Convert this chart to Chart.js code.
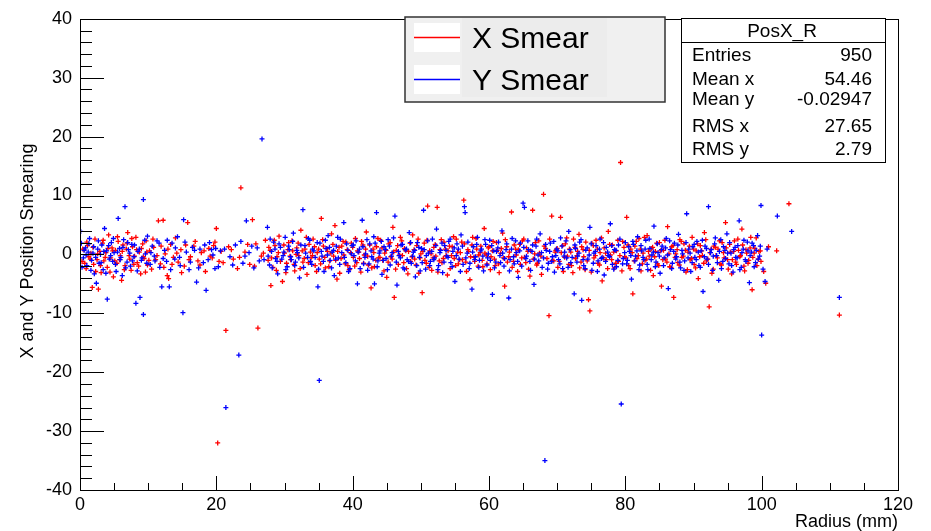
<!DOCTYPE html>
<html>
<head>
<meta charset="utf-8">
<script src="https://cdn.jsdelivr.net/npm/chart.js@4.4.1/dist/chart.umd.min.js"></script>
<style>
  html, body { margin: 0; padding: 0; background: #fff; }
  canvas { display: block; }
</style>
</head>
<body>
<canvas id="smearChart" width="931" height="531"></canvas>
<script>
// PosX_R : X / Y smearing vs radius

const seriesNames = ['X Smear', 'Y Smear'];
const seriesColors = ['#ff0000', '#0000ff'];

const xAxisRange = [0, 120];
const yAxisRange = [-40, 40];
const xAxisTitle = 'Radius (mm)';
const yAxisTitle = 'X and Y Position Smearing';

const statsTitle = 'PosX_R';
const statsNames = ['Entries', 'Mean x', 'Mean y', 'RMS x', 'RMS y'];
const statsValues = ['950', '54.46', '-0.02947', '27.65', '2.79'];

// [radius, smear] for the X smearing
const xSmearPts = [
  [0.3,-1.2],[0.6,0.8],[0.9,-2.4],[1.1,1.5],[1.3,-0.4],[1.6,0.2],[1.8,-5.6],[2.0,-1.7],[2.2,2.6],[2.5,-0.9],
  [2.7,-5.9],[2.9,0.5],[3.1,-3.1],[3.3,1.9],[3.5,-1.1],[3.8,0.3],[4.0,-2.2],[4.2,3.3],[4.5,-0.6],[4.7,1.1],
  [4.9,-3.8],[5.2,0.7],[5.4,-1.5],[5.6,2.2],[5.9,-0.2],[6.1,-4.4],[6.3,1.6],[6.6,-1.9],[6.8,0.9],[7.0,3.7],
  [7.3,-0.8],[7.5,-2.7],[7.7,1.3],[8.0,-0.3],[8.2,2.9],[8.4,-1.4],[8.7,0.4],[8.9,-3.3],[9.2,1.8],[9.4,-0.7],
  [9.7,2.3],[9.9,-1.8],
  [10.2,0.6],[10.5,-2.5],[10.8,1.2],[11.1,-0.9],[11.5,5.7],[11.8,-1.6],[12.2,5.8],[12.5,0.1],[12.8,-3.6],[13.0,-4.1],
  [13.3,1.7],[13.7,-0.5],[14.0,2.8],[14.4,-1.3],[14.8,0.8],[15.3,-2.0],[15.8,5.4],[16.2,-0.4],[16.7,1.4],[17.3,-1.1],
  [17.8,0.3],[18.4,-2.9],[18.9,1.0],[19.4,-0.6],[19.8,2.1],[20.0,4.4],[20.4,-1.2],[20.7,0.5],
  [20.2,-32.0],[21.4,-12.9],[21.8,1.3],[22.5,-0.8],[23.1,-2.4],[23.6,11.3],[24.2,0.4],[24.9,-1.7],[25.3,5.9],[25.8,1.8],
  [26.1,-12.5],[26.6,-0.3],[27.2,2.4],
  [27.6,-1.0],[27.9,0.7],[28.0,-5.3],[28.3,-2.2],[28.6,1.5],[28.9,-0.4],[29.2,3.1],[29.7,-4.6],[30.0,0.2],[30.3,-1.5],
  [30.6,2.0],[30.9,-0.9],[31.2,0.6],[31.5,-2.8],[31.8,1.1],[32.1,-0.2],[32.4,4.1],[32.7,-1.3],[33.0,0.9],[33.3,-3.4],
  [33.6,1.7],[33.9,-0.6],[34.2,2.6],[34.5,-1.9],[34.8,0.3],[35.1,-0.8],[35.4,6.1],[35.7,1.4],[36.0,-2.3],[36.3,0.5],
  [36.6,-1.1],[36.9,3.5],[37.2,-0.3],[37.4,4.9],[37.7,-4.2],[38.0,1.2],[38.3,-0.7],[38.6,2.2],[38.9,-1.6],[39.2,0.8],
  [39.5,-2.6],[39.8,1.9],
  [40.1,-0.5],[40.4,2.7],[40.6,-1.4],[40.9,0.4],[41.2,-3.0],[41.5,1.6],[41.7,-0.1],[42.0,3.8],[42.3,-1.8],[42.7,-5.7],
  [43.0,0.9],[43.2,-2.1],[43.5,1.3],[43.8,-0.6],[44.1,2.4],[44.4,-1.0],[44.7,0.2],[45.0,-3.9],[45.3,1.8],[45.6,-0.4],
  [45.9,4.6],[46.1,-7.3],[46.4,0.7],[46.7,-1.7],[47.0,2.9],[47.3,-0.2],[47.6,1.0],[47.9,-2.4],[48.2,0.5],[48.5,-1.2],
  [48.8,3.3],[49.1,-0.8],[49.4,1.5],[49.7,-3.2],[50.0,0.1],[50.2,-6.5],
  [50.5,1.9],[50.8,-1.5],[51.0,8.2],[51.3,0.6],[51.6,-2.7],[51.9,1.2],[52.2,-0.3],[52.4,8.0],[52.7,-1.1],[53.0,2.5],
  [53.3,-0.7],[53.6,0.9],[53.9,-3.5],[54.2,1.4],[54.5,-0.2],[54.8,3.0],[55.1,-1.9],[55.4,0.4],[55.7,-0.9],[56.0,2.1],
  [56.3,9.2],[56.6,-1.3],[56.9,0.8],[57.2,-4.3],[57.5,1.6],[57.8,-0.5],[58.1,2.7],[58.4,-2.0],[58.7,0.3],[59.0,-1.0],
  [59.3,4.4],[59.6,-0.1],[59.9,1.1],
  [60.2,-2.6],[60.5,0.6],[60.8,-0.8],[61.1,2.0],[61.4,-1.6],[61.7,0.2],[62.0,3.6],[62.3,-5.4],[62.6,1.3],[62.9,-0.4],
  [63.3,7.2],[63.6,-1.2],[63.9,0.9],[64.2,-2.9],[64.5,1.7],[64.8,-0.6],[65.1,2.6],[65.4,-1.4],[65.7,0.5],[66.0,-3.7],
  [66.4,7.5],[66.7,0.1],[67.0,-1.8],[67.3,2.3],[67.6,-0.3],[68.0,10.2],[68.3,1.0],[68.8,-10.4],[69.2,6.5],[69.5,-1.1],
  [69.8,0.7],
  [70.1,-2.2],[70.5,6.3],[70.8,1.5],[71.1,-0.5],[71.4,2.8],[71.7,-1.7],[72.0,0.4],[72.3,-3.1],[72.6,1.2],[72.9,-0.2],
  [73.2,3.4],[73.5,-1.3],[73.8,0.8],[74.1,-2.6],[74.6,-7.7],[74.8,-9.6],[75.1,1.9],[75.4,-0.6],[75.7,2.4],[76.0,-1.5],
  [76.3,0.3],[76.6,-4.5],[76.9,1.1],[77.2,-0.9],[77.5,3.9],[77.8,-0.1],[78.1,1.6],[78.4,-2.3],[78.7,0.6],[79.0,-1.2],
  [79.3,15.6],[79.6,2.2],[79.9,-0.4],
  [80.2,6.3],[80.5,-1.9],[80.8,0.9],[81.1,-6.7],[81.4,1.4],[81.7,-0.7],[82.0,2.7],[82.3,-2.8],[82.6,0.2],[82.9,-1.0],
  [83.2,3.2],[83.5,-0.3],[83.8,1.0],[84.1,-3.6],[84.4,0.5],[84.7,-1.6],[85.0,2.0],[85.3,-5.4],[85.6,0.7],[85.9,-0.8],
  [86.2,4.7],[86.5,-2.1],[86.8,1.3],[87.1,-7.3],[87.4,0.1],[87.7,-1.4],[88.0,2.5],[88.3,-0.5],[88.6,1.8],[88.9,-3.0],
  [89.2,0.4],[89.5,-0.9],[89.8,2.9],
  [90.1,-1.7],[90.4,0.6],[90.7,-4.1],[91.0,1.5],[91.3,-0.2],[91.6,3.7],[91.9,-1.1],[92.3,-8.9],[92.6,0.9],[92.9,-2.5],
  [93.2,1.2],[93.5,-0.6],[93.8,2.3],[94.1,-1.8],[94.4,0.3],[94.7,5.4],[95.0,-0.9],[95.3,1.7],[95.6,-3.3],[95.9,0.5],
  [96.2,-1.3],[96.5,2.6],[96.8,-0.4],[97.1,4.3],[97.4,-2.0],[97.7,0.8],[98.0,-1.5],[98.3,1.1],[98.6,-6.0],[98.9,0.2],
  [99.2,2.8],[99.5,-0.8],[99.8,0.6],
  [100.3,-2.9],[100.6,-4.9],[101.0,1.3],[102.2,0.6],[104.0,8.6],[111.4,-10.3]
];

// denser core of the X smearing band
const xSmearCore = [
  [0.4,0.9],[0.7,-1.5],[1.0,2.1],[1.5,-0.8],[1.9,1.2],[2.3,-2.9],[2.6,0.1],[3.0,-1.9],[3.4,2.4],[3.7,-0.5],
  [4.1,1.0],[4.4,-3.0],[4.8,0.6],[5.1,-1.1],[5.5,3.0],[5.8,-0.9],[6.2,0.5],[6.5,-2.6],[6.9,1.9],[7.2,-0.2],
  [7.6,2.7],[7.9,-1.7],[8.3,0.8],[8.6,-2.0],[9.0,1.0],[9.3,-0.4],[9.6,-3.0],[9.8,0.4],
  [10.1,-1.0],[10.7,2.6],[11.3,-0.2],[11.9,1.4],[12.3,-2.2],[12.9,0.9],[13.5,-1.7],[14.2,0.2],[14.9,-3.1],[15.5,1.6],
  [16.0,-0.9],[16.9,2.2],[17.6,-1.8],[18.2,0.6],[19.1,-0.3],[19.6,1.5],
  [21.0,-1.4],[22.2,0.8],[23.4,-0.5],[24.6,1.7],[25.6,-2.0],[26.9,0.2],
  [27.7,1.2],[28.1,-0.6],[28.5,2.4],[28.8,-2.7],[29.1,0.3],[29.4,-1.2],[29.9,1.6],[30.2,-3.1],[30.5,0.8],[30.8,-0.3],
  [31.1,2.3],[31.4,-1.7],[31.7,0.0],[32.0,1.9],[32.3,-2.4],[32.6,0.6],[32.9,-0.7],[33.2,2.9],[33.5,-1.4],[33.8,0.4],
  [34.1,-0.2],[34.4,1.3],[34.7,-2.9],[35.0,0.9],[35.3,-1.6],[35.6,2.5],[35.9,-0.5],[36.2,1.0],[36.5,-2.1],[36.8,0.2],
  [37.1,1.7],[37.5,-1.0],[37.8,0.5],[38.1,-3.2],[38.4,1.4],[38.7,-0.1],[39.0,2.1],[39.3,-1.9],[39.7,0.3],
  [40.0,1.2],[40.3,-2.0],[40.7,0.6],[41.0,-0.7],[41.3,2.2],[41.6,-1.5],[41.9,0.9],[42.2,-0.3],[42.5,1.6],[42.8,-2.3],
  [43.1,0.3],[43.4,-1.0],[43.7,2.7],[44.0,-0.5],[44.3,1.1],[44.6,-2.8],[44.9,0.7],[45.2,-1.3],[45.5,2.0],[45.8,-0.8],
  [46.0,0.4],[46.3,-2.5],[46.6,1.5],[46.9,-0.1],[47.2,2.3],[47.5,-1.4],[47.8,0.6],[48.1,-3.3],[48.4,1.9],[48.7,-0.4],
  [49.0,0.8],[49.3,-1.8],[49.6,2.6],[49.9,-0.6],
  [50.3,0.5],[50.6,-1.0],[50.9,2.4],[51.2,-2.2],[51.5,0.1],[51.8,-0.6],[52.1,1.7],[52.5,-3.0],[52.8,0.8],[53.1,-1.4],
  [53.4,2.1],[53.7,-0.2],[54.0,0.6],[54.3,-2.4],[54.6,1.3],[54.9,-0.7],[55.2,2.6],[55.5,-1.6],[55.8,0.3],[56.1,-0.9],
  [56.4,1.8],[56.7,-2.9],[57.0,0.5],[57.3,-0.4],[57.6,2.9],[57.9,-1.2],[58.2,0.9],[58.5,-0.1],[58.8,1.4],[59.1,-2.1],
  [59.4,0.2],[59.7,-1.6],
  [60.0,1.3],[60.3,-0.4],[60.6,2.2],[60.9,-1.9],[61.2,0.7],[61.5,-3.1],[61.8,1.0],[62.1,-0.6],[62.4,2.5],[62.7,-1.3],
  [63.0,0.4],[63.4,-2.2],[63.7,1.6],[64.0,-0.1],[64.3,0.8],[64.6,-1.7],[64.9,2.3],[65.2,-0.5],[65.5,1.1],[65.8,-2.5],
  [66.1,0.6],[66.5,-0.8],[66.8,2.0],[67.1,-1.5],[67.4,0.2],[67.7,-3.4],[68.1,1.4],[68.5,-0.7],[68.9,2.6],[69.3,-1.0],
  [69.7,0.4],
  [70.0,1.0],[70.3,-1.2],[70.6,0.3],[70.9,-2.9],[71.2,1.8],[71.5,-0.3],[71.8,0.9],[72.1,-1.9],[72.4,2.6],[72.7,-0.7],
  [73.0,0.5],[73.3,-2.3],[73.6,1.3],[73.9,-0.4],[74.2,2.1],[74.4,-1.1],[74.7,0.7],[75.0,-3.0],[75.3,1.5],[75.6,-0.2],
  [75.9,0.9],[76.2,-1.8],[76.5,2.8],[76.8,-0.6],[77.1,0.2],[77.4,-2.4],[77.7,1.7],[78.0,-0.9],[78.3,0.4],[78.6,-1.5],
  [78.9,2.4],[79.2,-0.2],[79.5,-2.8],[79.8,1.2],
  [80.1,-0.6],[80.4,1.6],[80.7,-2.4],[81.0,0.3],[81.3,-1.1],[81.6,2.2],[81.9,-0.2],[82.2,0.9],[82.5,-1.6],[82.8,2.9],
  [83.1,-0.8],[83.4,0.5],[83.7,-2.7],[84.0,1.2],[84.3,-0.4],[84.6,1.9],[84.9,-1.9],[85.2,0.6],[85.5,-0.9],[85.8,2.4],
  [86.1,-1.3],[86.4,0.1],[86.7,-2.2],[87.0,1.5],[87.3,-0.5],[87.6,0.8],[87.9,-1.8],[88.2,2.2],[88.5,-0.3],[88.8,0.7],
  [89.1,-2.6],[89.4,1.4],[89.7,-0.7],
  [90.0,0.9],[90.3,-2.3],[90.6,1.8],[90.9,-0.4],[91.2,0.6],[91.5,-1.5],[91.8,2.5],[92.1,-0.8],[92.4,0.3],[92.7,-3.2],
  [93.0,1.4],[93.3,-0.2],[93.6,0.9],[93.9,-1.6],[94.2,2.0],[94.5,-0.6],[94.8,1.1],[95.1,-2.5],[95.4,0.4],[95.7,-0.9],
  [96.0,2.3],[96.3,-1.7],[96.6,0.7],[96.9,-0.2],[97.2,1.6],[97.5,-2.8],[97.8,0.2],[98.1,-1.0],[98.4,2.9],[98.7,-0.5],
  [99.0,1.0],[99.3,-1.9],[99.6,0.5],[99.9,-1.2]
];

// [radius, smear] for the Y smearing
const ySmearPts = [
  [0.1,3.9],[0.2,1.9],[0.5,-0.6],[0.8,1.1],[1.0,-1.9],[1.2,0.4],[1.4,2.7],[1.7,-1.0],[1.9,0.2],[2.1,-3.3],
  [2.4,-4.9],[2.6,0.9],[2.8,-1.5],[3.0,0.0],[3.2,1.6],[3.4,-2.6],[3.6,4.4],[3.9,0.6],[4.0,-7.6],[4.3,-0.8],
  [4.6,2.0],[4.8,-1.2],[5.0,0.3],[5.3,-2.9],[5.6,6.1],[5.8,1.0],[6.0,-0.5],[6.2,-3.6],[6.4,2.5],[6.6,8.1],
  [6.9,-1.3],[7.1,0.8],[7.4,-2.0],[7.6,1.7],[7.9,-0.4],[8.2,-8.3],[8.5,0.5],[8.8,-7.3],[9.0,-1.0],[9.3,9.3],
  [9.3,-10.2],[9.6,0.1],[9.9,3.1],
  [10.3,-1.7],[10.6,1.4],[10.9,-0.3],[11.3,2.3],[11.7,-2.2],[12.0,-5.5],[12.4,0.7],[12.7,-1.2],[13.1,-5.5],[13.5,1.9],
  [13.9,-0.8],[14.3,3.0],[14.7,-1.9],[15.1,-9.9],[15.2,5.9],[15.6,0.4],[16.0,-2.6],[16.5,1.2],[17.1,-4.7],[17.6,0.9],
  [18.1,-1.4],[18.5,-6.1],[19.0,2.0],[19.5,-0.1],[19.9,1.0],[20.3,-2.1],[20.6,0.6],
  [21.4,-26.0],[22.0,-0.4],[22.8,1.6],[23.3,-17.1],[23.9,-1.5],[24.4,5.7],[24.8,0.3],[25.5,-2.3],[26.0,1.1],[26.7,19.6],
  [27.0,-0.9],
  [27.5,4.6],[27.8,-1.8],[28.1,0.5],[28.4,2.1],[28.7,-0.7],[29.0,-3.3],[29.4,1.2],[29.8,-0.2],[30.1,2.9],[30.4,-2.1],
  [30.7,0.8],[31.0,-0.9],[31.3,3.6],[31.6,-1.3],[31.9,0.3],[32.2,-4.0],[32.7,7.6],[33.0,1.5],[33.4,-0.5],[33.7,2.4],
  [34.0,-1.7],[34.3,0.6],[34.9,-5.5],[35.1,-21.4],[35.2,1.9],[35.5,-0.3],[35.8,-2.9],[36.1,1.0],[36.4,3.2],[36.7,-1.0],
  [37.0,0.4],[37.3,-3.6],[37.6,1.4],[37.9,-0.6],[38.2,2.6],[38.7,5.4],[39.0,-1.4],[39.3,0.7],[39.6,-2.4],[39.9,1.5],
  [40.2,-0.2],[40.5,2.3],[40.7,-5.0],[41.0,0.9],[41.4,5.8],[41.6,-1.6],[41.9,0.1],[42.2,-2.7],[42.5,1.8],[42.8,-0.4],
  [43.1,3.0],[43.2,-5.0],[43.5,7.1],[43.7,-1.1],[44.0,0.6],[44.3,-3.4],[44.6,1.3],[44.9,-0.7],[45.2,2.5],[45.5,-1.8],
  [45.8,0.3],[46.2,6.5],[46.5,-5.2],[46.8,-0.2],[47.1,1.6],[47.4,-2.3],[47.7,0.8],[48.0,-0.9],[48.3,3.7],[48.6,-1.5],
  [48.9,0.4],[49.2,-3.8],[49.5,2.0],[49.8,-0.5],
  [50.1,1.0],[50.4,7.5],[50.7,-2.5],[51.1,0.2],[51.4,-1.2],[51.7,2.6],[52.0,-0.6],[52.3,4.3],[52.6,-1.9],[52.9,0.7],
  [53.2,-3.1],[53.5,1.5],[53.8,-0.3],[54.1,2.2],[54.4,-1.4],[54.7,0.5],[55.0,-4.6],[55.3,1.8],[55.6,-0.8],[55.9,3.3],
  [56.2,-1.7],[56.4,8.1],[56.5,7.1],[56.8,0.2],[57.1,-2.4],[57.5,-5.9],[57.7,1.3],[58.0,-0.4],[58.3,2.9],[58.6,-1.0],
  [58.9,0.9],[59.2,-2.8],[59.5,1.7],[59.8,-0.6],
  [60.1,2.4],[60.5,-6.8],[60.7,0.6],[61.0,-1.3],[61.3,1.1],[61.6,-0.2],[61.9,4.0],[62.2,-2.0],[62.5,0.8],[62.9,-7.4],
  [63.1,-0.9],[63.4,2.7],[63.7,-1.6],[64.0,0.3],[64.3,-3.9],[64.6,1.9],[65.0,8.7],[65.2,8.0],[65.4,-0.7],[65.7,2.3],
  [66.0,-1.2],[66.3,0.5],[66.6,-5.1],[66.9,1.4],[67.2,-0.1],[67.5,3.5],[67.8,-2.2],[68.2,-35.0],[68.4,0.7],[68.7,-1.5],
  [69.0,1.9],[69.3,-0.4],[69.6,-3.0],[69.9,0.9],
  [70.2,-0.9],[70.5,2.8],[70.8,-2.4],[71.1,0.4],[71.4,-0.6],[71.7,3.9],[72.0,-1.4],[72.5,-6.7],[72.7,1.0],[73.0,-0.3],
  [73.3,2.1],[73.6,-7.8],[73.9,-1.9],[74.2,0.7],[74.5,-0.8],[74.8,4.6],[75.1,-2.7],[75.4,0.2],[75.7,1.5],[76.0,-1.1],
  [76.3,2.6],[76.6,-0.5],[76.9,-3.5],[77.2,1.2],[77.5,-0.2],[77.8,5.2],[78.1,-1.7],[78.4,0.8],[78.7,-2.1],[79.0,1.6],
  [79.4,-25.4],[79.7,-0.7],
  [80.0,2.0],[80.3,-1.0],[80.6,0.5],[80.9,-4.2],[81.2,1.7],[81.5,-0.3],[81.8,3.0],[82.1,-1.8],[82.4,0.6],[82.7,-0.9],
  [83.0,2.4],[83.3,-2.6],[83.6,1.0],[83.9,-0.1],[84.2,4.8],[84.5,-1.3],[84.8,0.3],[85.1,-3.2],[85.4,1.4],[85.7,-0.6],
  [86.0,2.7],[86.3,-5.8],[86.6,0.8],[86.9,-1.5],[87.2,1.9],[87.5,-0.4],[87.8,3.4],[88.1,-2.3],[88.4,0.1],[88.7,-1.1],
  [89.0,6.9],[89.3,0.9],[89.6,-2.9],[89.9,1.3],
  [90.2,-0.5],[90.5,2.2],[90.8,-1.9],[91.1,0.6],[91.4,-6.3],[91.7,1.4],[92.0,-0.8],[92.2,8.1],[92.5,0.3],[92.8,-2.7],
  [93.1,1.8],[93.4,-0.2],[93.7,-4.4],[94.0,2.5],[94.3,-1.2],[94.6,0.7],[94.9,3.5],[95.2,-1.6],[95.5,0.2],[95.8,-3.0],
  [96.1,1.2],[96.4,-0.6],[96.7,5.7],[97.0,-2.2],[97.3,0.9],[97.6,-0.9],[97.9,2.1],[98.2,-4.8],[98.5,0.4],[98.8,1.5],
  [99.1,-1.4],[99.4,3.2],[99.9,8.3],[99.7,-0.3],
  [100.0,-13.7],[100.2,-2.5],[100.5,-4.6],[100.8,0.9],[102.3,6.5],[104.4,3.9],[111.4,-7.3]
];

// denser core of the Y smearing band
const ySmearCore = [
  [0.3,-2.2],[0.6,0.7],[0.9,-0.1],[1.3,1.8],[1.6,-2.7],[2.0,1.3],[2.3,-0.5],[2.7,2.3],[3.1,-1.4],[3.5,0.5],
  [3.8,-3.2],[4.2,1.5],[4.5,-0.2],[4.9,2.7],[5.2,-1.7],[5.5,0.4],[5.9,-0.9],[6.3,1.2],[6.7,-2.3],[7.0,2.0],
  [7.3,0.2],[7.7,-1.1],[8.0,1.6],[8.4,-2.8],[8.7,0.9],[9.1,-0.6],[9.5,2.4],[9.8,-1.5],
  [10.4,0.3],[11.0,-1.1],[11.6,1.9],[12.2,-0.7],[12.8,2.4],[13.3,-2.6],[14.0,1.1],[14.6,-0.5],[15.4,2.1],[16.2,-1.3],
  [16.8,0.7],[17.4,-2.3],[18.3,1.6],[18.8,-0.9],[19.3,0.8],[19.8,-2.4],
  [21.2,0.9],[22.4,-1.8],[23.6,2.2],[24.2,-0.3],[25.2,1.4],[26.3,-1.1],
  [27.6,-0.3],[27.9,2.6],[28.2,-2.3],[28.6,0.9],[28.9,-1.2],[29.2,1.8],[29.6,-0.8],[29.9,0.4],[30.2,-2.6],[30.6,1.4],
  [30.9,-0.4],[31.2,2.2],[31.5,-1.9],[31.8,0.7],[32.1,-0.6],[32.4,1.6],[32.8,-2.2],[33.1,0.2],[33.5,2.7],[33.8,-1.2],
  [34.1,0.9],[34.5,-0.5],[34.8,2.0],[35.0,-2.5],[35.4,0.5],[35.7,-1.2],[36.0,2.4],[36.3,-0.1],[36.6,1.2],[36.9,-2.3],
  [37.2,0.7],[37.5,-0.8],[37.8,2.9],[38.1,-1.7],[38.4,0.3],[38.8,-0.5],[39.1,1.8],[39.4,-2.9],[39.8,0.1],
  [40.1,1.6],[40.4,-1.1],[40.8,0.4],[41.1,-2.4],[41.5,1.3],[41.8,-0.5],[42.1,2.5],[42.4,-1.6],[42.7,0.6],[43.0,-0.8],
  [43.3,1.9],[43.6,-2.1],[43.9,0.2],[44.2,2.2],[44.5,-1.0],[44.8,0.8],[45.1,-2.6],[45.4,1.4],[45.7,-0.3],[46.0,2.8],
  [46.4,-1.3],[46.7,0.5],[47.0,-0.6],[47.3,1.7],[47.6,-2.5],[47.9,0.9],[48.2,-1.2],[48.5,2.0],[48.8,-0.3],[49.1,0.7],
  [49.4,-1.9],[49.7,1.2],[49.9,-2.8],
  [50.2,-1.4],[50.5,0.8],[50.8,-0.2],[51.0,2.3],[51.3,-1.9],[51.6,0.5],[51.9,-0.9],[52.2,1.5],[52.5,-2.6],[52.8,0.3],
  [53.1,1.9],[53.4,-1.3],[53.7,0.7],[54.0,-0.5],[54.3,2.6],[54.6,-2.1],[54.9,1.1],[55.2,-0.2],[55.5,0.9],[55.8,-2.9],
  [56.1,1.4],[56.6,-0.6],[56.9,2.1],[57.2,-1.5],[57.6,0.4],[57.9,-0.9],[58.2,1.7],[58.5,-2.2],[58.8,0.6],[59.1,-0.3],
  [59.4,2.5],[59.7,-1.8],[59.9,0.1],
  [60.2,-1.0],[60.4,1.5],[60.8,-2.3],[61.1,0.5],[61.4,2.1],[61.7,-1.4],[62.0,0.2],[62.3,-0.7],[62.6,1.8],[63.0,-2.8],
  [63.3,0.9],[63.6,-0.4],[63.9,2.3],[64.2,-1.2],[64.5,0.6],[64.8,-2.0],[65.1,1.2],[65.5,-0.3],[65.8,0.8],[66.1,-2.7],
  [66.4,1.6],[66.7,-0.8],[67.0,2.6],[67.3,-1.1],[67.7,0.3],[68.0,-0.6],[68.3,1.7],[68.6,-2.5],[68.9,0.5],[69.2,-1.2],
  [69.5,2.2],[69.8,-0.2],
  [70.1,0.6],[70.4,-1.6],[70.7,1.4],[71.0,-0.3],[71.3,2.3],[71.6,-2.2],[71.9,0.8],[72.2,-0.5],[72.6,1.6],[72.9,-1.3],
  [73.2,0.2],[73.5,2.5],[73.8,-0.9],[74.1,-2.4],[74.4,1.1],[74.7,-0.1],[75.0,1.8],[75.3,-1.5],[75.6,0.5],[75.9,-2.9],
  [76.2,0.9],[76.5,-0.7],[76.8,2.0],[77.1,-1.2],[77.4,0.4],[77.7,-0.4],[78.0,1.5],[78.3,-2.5],[78.6,0.7],[78.9,-1.0],
  [79.2,2.6],[79.6,-1.6],[79.9,0.3],
  [80.2,-1.6],[80.5,1.3],[80.8,-0.2],[81.1,2.2],[81.4,-1.1],[81.7,0.6],[82.0,-2.6],[82.3,1.5],[82.6,-0.5],[82.9,0.9],
  [83.2,-1.7],[83.5,2.6],[83.8,-0.9],[84.1,0.4],[84.4,-2.1],[84.7,1.8],[85.0,-0.3],[85.3,0.8],[85.6,-1.9],[85.9,1.1],
  [86.2,-0.1],[86.5,2.3],[86.8,-2.4],[87.1,0.5],[87.4,-0.8],[87.7,1.6],[88.0,-1.3],[88.3,0.7],[88.6,-2.7],[88.9,2.0],
  [89.2,-0.6],[89.5,0.2],[89.8,-1.4],
  [90.1,1.7],[90.4,-0.9],[90.7,0.4],[91.0,-2.2],[91.3,2.4],[91.6,-0.4],[91.9,1.0],[92.2,-1.7],[92.6,0.8],[92.9,-0.3],
  [93.2,2.8],[93.5,-1.4],[93.8,0.5],[94.1,-2.4],[94.4,1.3],[94.7,-0.7],[95.0,0.2],[95.3,2.0],[95.6,-1.9],[95.9,0.8],
  [96.2,-0.5],[96.5,1.5],[96.8,-2.6],[97.1,0.3],[97.4,2.4],[97.7,-1.2],[98.0,0.6],[98.3,-0.2],[98.6,1.9],[98.9,-2.1],
  [99.2,0.7],[99.5,-0.8],[99.8,1.4]
];

const FONT = "'Liberation Sans', Arial, Helvetica, sans-serif";

// ROOT-like frame, inner ticks, titles, legend and stats box
const rootDecor = {
  id: 'rootDecor',
  afterDraw(chart) {
    const ctx = chart.ctx;
    const area = chart.chartArea;
    const xs = chart.scales.x;
    const ys = chart.scales.y;
    ctx.save();

    // frame
    ctx.strokeStyle = '#000';
    ctx.lineWidth = 1;
    ctx.strokeRect(Math.round(area.left) + 0.5, Math.round(area.top) + 0.5,
      Math.round(area.right - area.left), Math.round(area.bottom - area.top));

    // y ticks (inside, left)
    ctx.beginPath();
    for (let v = yAxisRange[0]; v <= yAxisRange[1]; v += 2) {
      const py = Math.round(ys.getPixelForValue(v)) + 0.5;
      const len = v % 10 === 0 ? 24 : 12;
      ctx.moveTo(area.left, py);
      ctx.lineTo(area.left + len, py);
    }
    // x ticks (inside, bottom)
    for (let v = xAxisRange[0]; v <= xAxisRange[1]; v += 5) {
      const px = Math.round(xs.getPixelForValue(v)) + 0.5;
      const len = v % 20 === 0 ? 14 : 7;
      ctx.moveTo(px, area.bottom);
      ctx.lineTo(px, area.bottom - len);
    }
    ctx.stroke();

    // axis titles
    ctx.fillStyle = '#000';
    ctx.font = '18px ' + FONT;
    ctx.textAlign = 'right';
    ctx.textBaseline = 'alphabetic';
    ctx.fillText(xAxisTitle, area.right, 527);

    ctx.save();
    ctx.translate(33, 251);
    ctx.rotate(-Math.PI / 2);
    ctx.textAlign = 'center';
    ctx.fillText(yAxisTitle, 0, 0);
    ctx.restore();

    // legend
    ctx.fillStyle = '#f0f0f0';
    ctx.fillRect(405, 17, 260, 85);
    ctx.fillStyle = '#ececec';
    ctx.fillRect(462, 18, 145, 79);
    ctx.strokeStyle = '#333';
    ctx.lineWidth = 1.5;
    ctx.strokeRect(405, 17, 260, 85);
    const rowsY = [37, 79];
    seriesNames.forEach((name, i) => {
      ctx.fillStyle = '#fff';
      ctx.fillRect(414, rowsY[i] - 14, 46, 29);
      ctx.strokeStyle = seriesColors[i];
      ctx.lineWidth = 1.5;
      ctx.beginPath();
      ctx.moveTo(414, rowsY[i] + 0.5);
      ctx.lineTo(460, rowsY[i] + 0.5);
      ctx.stroke();
      ctx.fillStyle = '#000';
      ctx.font = '30px ' + FONT;
      ctx.textAlign = 'left';
      ctx.textBaseline = 'alphabetic';
      ctx.fillText(name, 472, rowsY[i] + 11);
    });

    // stats box
    ctx.fillStyle = '#fff';
    ctx.fillRect(681, 18, 204, 144);
    ctx.strokeStyle = '#000';
    ctx.lineWidth = 1;
    ctx.strokeRect(681.5, 18.5, 204, 144);
    ctx.beginPath();
    ctx.moveTo(681, 42.5);
    ctx.lineTo(885, 42.5);
    ctx.stroke();
    ctx.fillStyle = '#000';
    ctx.font = '19px ' + FONT;
    ctx.textAlign = 'center';
    ctx.fillText(statsTitle, 782, 37);
    const statsBase = [61, 85, 105, 132, 155];
    statsNames.forEach((n, i) => {
      ctx.textAlign = 'left';
      ctx.fillText(n, 692, statsBase[i]);
      ctx.textAlign = 'right';
      ctx.fillText(statsValues[i], 872, statsBase[i]);
    });

    ctx.restore();
  }
};

const toXY = pts => pts.map(p => ({ x: p[0], y: p[1] }));

const axisTicks = {
  color: '#000',
  font: { family: FONT, size: 18 },
  autoSkip: false,
  maxRotation: 0
};

new Chart(document.getElementById('smearChart').getContext('2d'), {
  type: 'scatter',
  data: {
    datasets: [
      {
        label: seriesNames[0],
        data: toXY(xSmearPts.concat(xSmearCore)),
        pointStyle: 'cross',
        pointRadius: 2.5,
        borderColor: seriesColors[0],
        backgroundColor: seriesColors[0],
        borderWidth: 1.3,
        order: 2
      },
      {
        label: seriesNames[1],
        data: toXY(ySmearPts.concat(ySmearCore)),
        pointStyle: 'cross',
        pointRadius: 2.5,
        borderColor: seriesColors[1],
        backgroundColor: seriesColors[1],
        borderWidth: 1.3,
        order: 1
      }
    ]
  },
  options: {
    responsive: false,
    animation: false,
    events: [],
    layout: { padding: { top: 12, right: 33, left: 0, bottom: 0 } },
    plugins: {
      legend: { display: false },
      tooltip: { enabled: false }
    },
    scales: {
      x: {
        type: 'linear',
        min: xAxisRange[0],
        max: xAxisRange[1],
        grid: { display: false, drawTicks: false },
        border: { display: false },
        ticks: Object.assign({ stepSize: 20, padding: 4 }, axisTicks),
        afterFit(scale) { scale.height = 41; }
      },
      y: {
        type: 'linear',
        min: yAxisRange[0],
        max: yAxisRange[1],
        grid: { display: false, drawTicks: false },
        border: { display: false },
        ticks: Object.assign({ stepSize: 10, padding: 8 }, axisTicks),
        afterFit(scale) { scale.width = 80; }
      }
    }
  },
  plugins: [rootDecor]
});
</script>
</body>
</html>
